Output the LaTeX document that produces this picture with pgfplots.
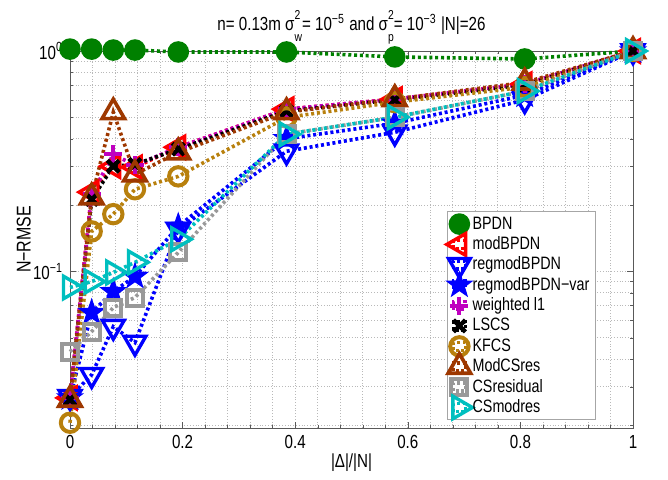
\documentclass[border=0pt]{standalone}
\usepackage{fontspec}
\setmainfont{Liberation Sans}[FakeStretch=0.8]
\usepackage{pgfplots}
\pgfplotsset{compat=1.18}
\usetikzlibrary{plotmarks}

\definecolor{cGreen}{rgb}{0,0.5,0}
\definecolor{cRed}{rgb}{1,0,0}
\definecolor{cBlue}{rgb}{0,0,1}
\definecolor{cMag}{rgb}{0.75,0,0.75}
\definecolor{cGold}{rgb}{0.72,0.5,0.05}
\definecolor{cBrown}{rgb}{0.62,0.22,0}
\definecolor{cGray}{rgb}{0.6,0.6,0.6}
\definecolor{cCyan}{rgb}{0,0.75,0.75}

% filled five-pointed star
\pgfdeclareplotmark{pstar}{%
  \pgfpathmoveto{\pgfpointpolar{90}{\pgfplotmarksize}}%
  \pgfpathlineto{\pgfpointpolar{126}{0.4\pgfplotmarksize}}%
  \pgfpathlineto{\pgfpointpolar{162}{\pgfplotmarksize}}%
  \pgfpathlineto{\pgfpointpolar{198}{0.4\pgfplotmarksize}}%
  \pgfpathlineto{\pgfpointpolar{234}{\pgfplotmarksize}}%
  \pgfpathlineto{\pgfpointpolar{270}{0.4\pgfplotmarksize}}%
  \pgfpathlineto{\pgfpointpolar{306}{\pgfplotmarksize}}%
  \pgfpathlineto{\pgfpointpolar{342}{0.4\pgfplotmarksize}}%
  \pgfpathlineto{\pgfpointpolar{18}{\pgfplotmarksize}}%
  \pgfpathlineto{\pgfpointpolar{54}{0.4\pgfplotmarksize}}%
  \pgfpathclose
  \pgfusepathqfillstroke
}

% sigma with stacked super- and subscript, kept apart vertically
\newcommand\supsub[2]{%
  \makebox[0pt][l]{\raisebox{0.62em}{\fontsize{6.5}{7}\selectfont #1}}%
  \raisebox{-0.55em}{\fontsize{6.5}{7}\selectfont #2}}

\begin{document}
\begin{tikzpicture}
\useasboundingbox (-35bp,-26bp) rectangle (299bp,214bp);
\begin{axis}[
    scale only axis,
    width=281.5bp, height=188.5bp,
    clip=false,
    xmin=0, xmax=1,
    ymode=log, ymin=0.0195, ymax=1,
    xtick={0,0.2,0.4,0.6,0.8,1},
    xticklabels={0,0.2,0.4,0.6,0.8,1},
    minor x tick num=4,
    ytick={0.1,1},
    yticklabels={10\textsuperscript{−1},10\textsuperscript{0}},
    minor ytick={0.02,0.03,0.04,0.05,0.06,0.07,0.08,0.09,0.2,0.3,0.4,0.5,0.6,0.7,0.8,0.9},
    grid=both,
    major grid style={densely dotted, gray!55},
    minor grid style={densely dotted, gray!55},
    tick align=inside,
    major tick length=3bp, minor tick length=1.6bp,
    axis line style={gray!70!black},
    tick style={gray!70!black},
    tick label style={font=\fontsize{9.5}{11}\selectfont},
    label style={font=\fontsize{9.5}{11}\selectfont},
    title style={font=\fontsize{9.5}{11}\selectfont, yshift=-6bp},
    title={n= 0.13m σ\supsub{2}{w}= 10\textsuperscript{−5} and σ\supsub{2}{p}= 10\textsuperscript{−3} |N|=26},
    xlabel={|Δ|/|N|},
    ylabel={N−RMSE},
    xlabel style={at={(axis description cs:0.5,-0.093)}, anchor=center},
    ylabel style={at={(axis description cs:-0.082,0.5)}, anchor=center, font=\fontsize{10}{11}\selectfont},
    legend style={at={(0.67,0.021)}, anchor=south west, draw=gray!70,
        font=\fontsize{9}{10}\selectfont, inner xsep=2pt, inner ysep=1pt,
        nodes={inner sep=1.2pt, text height=6.4bp, text depth=1.4bp},
        column sep=1.5bp,
        cells={anchor=west}},
    legend image code/.code={%
        \begin{pgfinterruptboundingbox}
        \draw[#1, solid, every mark/.append style={solid}] plot[only marks] coordinates {(0bp,0bp)};
        \end{pgfinterruptboundingbox}
        \path (-3bp,-2bp) rectangle (3bp,2bp);},
    ser/.style={line width=1.8bp, dash pattern=on 1.5bp off 1.4bp},
]
\addplot[ser, color=cGreen, mark=*, mark size=5bp, mark options={solid, line width=0.8bp}] coordinates {
 (0,1.02) (0.0385,1.02) (0.0769,1.01) (0.1154,1.01) (0.1923,0.99) (0.3846,0.99) (0.5769,0.94) (0.8077,0.92) (1,1.0)};
\addlegendentry{BPDN}
\addplot[ser, color=cRed, mark=triangle, mark size=6.3bp, mark options={solid, rotate=90, line width=1.7bp}] coordinates {
 (0,0.0267) (0.0385,0.229) (0.0769,0.30) (0.1154,0.297) (0.1923,0.366) (0.3846,0.545) (0.5769,0.605) (0.8077,0.708) (1,1.0)};
\addlegendentry{modBPDN}
\addplot[ser, color=cBlue, mark=triangle, mark size=6.3bp, mark options={solid, rotate=180, line width=1.7bp}] coordinates {
 (0,0.027) (0.0385,0.034) (0.0769,0.0562) (0.1154,0.0476) (0.1923,0.155) (0.3846,0.351) (0.5769,0.428) (0.8077,0.60) (1,1.0)};
\addlegendentry{regmodBPDN}
\addplot[ser, color=cBlue, mark=pstar, mark size=6.5bp, mark options={solid, line width=0.6bp}] coordinates {
 (0,0.0267) (0.0385,0.0651) (0.0769,0.081) (0.1154,0.095) (0.1923,0.160) (0.3846,0.40) (0.5769,0.47) (0.8077,0.63) (1,1.0)};
\addlegendentry{regmodBPDN−var}
\addplot[ser, color=cMag, mark=+, mark size=4.5bp, mark options={solid, line width=2bp}] coordinates {
 (0,0.0267) (0.0385,0.224) (0.0769,0.34) (0.1154,0.303) (0.1923,0.366) (0.3846,0.545) (0.5769,0.605) (0.8077,0.708) (1,1.0)};
\addlegendentry{weighted l1}
\addplot[ser, color=black, mark=x, mark size=4.2bp, mark options={solid, line width=2.2bp}] coordinates {
 (0,0.0262) (0.0385,0.212) (0.0769,0.30) (0.1154,0.306) (0.1923,0.359) (0.3846,0.534) (0.5769,0.60) (0.8077,0.70) (1,1.0)};
\addlegendentry{LSCS}
\addplot[ser, color=cGold, mark=o, mark size=4.6bp, mark options={solid, line width=2bp}] coordinates {
 (0,0.0206) (0.0385,0.152) (0.0769,0.182) (0.1154,0.236) (0.1923,0.27) (0.3846,0.50) (0.5769,0.586) (0.8077,0.686) (1,1.0)};
\addlegendentry{KFCS}
\addplot[ser, color=cBrown, mark=triangle, mark size=6.5bp, mark options={solid, line width=1.8bp}] coordinates {
 (0,0.0262) (0.0385,0.217) (0.0769,0.528) (0.1154,0.276) (0.1923,0.347) (0.3846,0.528) (0.5769,0.605) (0.8077,0.72) (1,1.0)};
\addlegendentry{ModCSres}
\addplot[ser, color=cGray, mark=square, mark size=4bp, mark options={solid, line width=2bp}] coordinates {
 (0,0.0433) (0.0385,0.0534) (0.0769,0.0686) (0.1154,0.0762) (0.1923,0.122) (0.3846,0.42) (0.5769,0.50) (0.8077,0.658) (1,1.0)};
\addlegendentry{CSresidual}
\addplot[ser, color=cCyan, mark=triangle, mark size=6.5bp, mark options={solid, rotate=-90, line width=1.7bp}] coordinates {
 (0,0.0846) (0.0385,0.090) (0.0769,0.099) (0.1154,0.110) (0.1923,0.140) (0.3846,0.419) (0.5769,0.501) (0.8077,0.658) (1,1.0)};
\addlegendentry{CSmodres}
\end{axis}
\end{tikzpicture}
\end{document}
